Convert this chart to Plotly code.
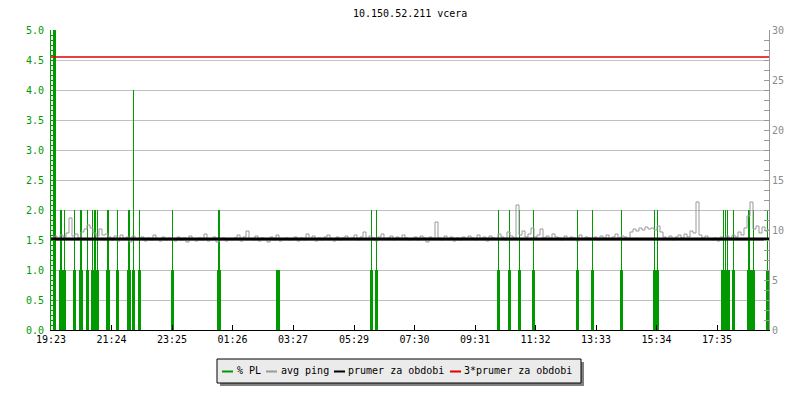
import plotly.graph_objects as go

# ---------------- data ----------------
title_text = "10.150.52.211 vcera"

# time axis: minutes after 19:23
x_end = 1436
tick_minutes = [0, 121, 242, 363, 484, 606, 727, 848, 969, 1090, 1211, 1332]
tick_labels = ["19:23", "21:24", "23:25", "01:26", "03:27", "05:29",
               "07:30", "09:31", "11:32", "13:33", "15:34", "17:35"]

# avg ping [ms], one sample every 6 minutes
ping_step = 6
avg_ping = [
    9.2, 9.4, 9.0, 9.5, 9.3, 9.7, 11.2, 9.4, 9.6, 9.2, 9.8, 10.1, 10.5, 10.2, 9.7, 9.4, 10.1, 9.5, 9.6, 9.3,
    9.0, 9.4, 8.9, 9.5, 9.1, 9.3, 8.8, 9.4, 9.0, 9.2, 9.3, 8.9, 9.2, 9.0, 9.5, 9.1, 8.9, 9.3, 9.0, 9.2,
    9.1, 8.9, 9.3, 9.0, 9.2, 8.8, 9.4, 9.1, 8.9, 9.2, 9.0, 9.6, 8.9, 9.1, 9.3, 8.8, 9.0, 9.2, 8.9, 9.1,
    9.0, 9.2, 9.5, 8.9, 9.3, 9.9, 9.1, 9.0, 9.4, 8.9, 9.2, 9.1, 8.8, 9.3, 9.0, 9.5, 8.9, 9.1, 9.2, 9.0,
    9.1, 9.3, 8.9, 9.2, 9.0, 9.6, 9.1, 9.4, 8.9, 9.2, 9.0, 9.3, 9.5, 9.1, 8.9, 9.3, 9.0, 9.2, 9.4, 9.1,
    9.2, 9.5, 9.0, 9.3, 9.8, 9.1, 9.4, 9.2, 8.9, 9.3, 9.6, 9.1, 9.2, 9.4, 9.0, 9.3, 9.1, 9.5, 9.2, 9.0,
    9.1, 9.3, 9.0, 9.4, 9.2, 8.8, 9.3, 9.1, 10.8, 9.2, 9.0, 9.4, 9.1, 9.3, 8.9, 9.2, 9.0, 9.3, 9.1, 9.4,
    9.2, 9.0, 9.5, 9.1, 9.3, 8.9, 9.4, 9.2, 9.1, 9.6, 9.3, 9.0, 9.8, 9.4, 9.2, 12.5, 9.5, 9.9, 9.3, 9.6,
    10.2, 9.3, 9.5, 10.1, 9.2, 9.4, 9.1, 9.6, 9.3, 9.2, 9.0, 9.4, 9.1, 9.3, 9.2, 8.9, 9.5, 9.1, 9.3, 9.2,
    9.1, 9.3, 9.0, 9.4, 9.2, 9.5, 9.1, 9.3, 9.6, 9.2, 9.4, 9.3, 9.1, 9.8, 10.1, 9.9, 10.2, 10.0, 10.3, 10.1,
    10.2, 10.0, 10.4, 9.8, 9.3, 9.1, 9.4, 9.0, 9.3, 9.5, 9.2, 9.6, 9.3, 9.9, 9.7, 12.8, 9.5, 9.2, 9.4, 9.1,
    9.0, 9.2, 8.9, 9.3, 9.1, 9.4, 9.2, 9.5, 9.3, 9.8, 9.5, 10.2, 11.4, 12.8, 10.1, 10.4, 9.7, 10.3, 9.9, 10.1,
]
ping_minutes = [i * ping_step for i in range(len(avg_ping))]

# packet loss [%], 2-minute samples
pl_minutes = [
    6, 8,
    18, 20, 22, 25, 27, 29, 45, 47, 49, 58, 60, 62, 71, 73, 75,
    81, 83, 85, 86, 88, 90, 91, 93, 95, 112, 114, 116, 131, 133, 135,
    154, 156, 158, 163, 165, 167, 175, 177, 179, 241, 243, 245,
    334, 336, 338, 452, 454, 456,
    639, 641, 643, 649, 651, 653,
    893, 895, 897, 915, 917, 919, 935, 937, 939, 963, 965, 967,
    1051, 1053, 1055, 1081, 1083, 1085, 1139, 1141, 1143,
    1205, 1207, 1209, 1211, 1213, 1215,
    1341, 1343, 1345, 1347, 1349, 1351, 1353, 1355, 1357,
    1363, 1365, 1367, 1394, 1396, 1398,
    1401, 1403, 1405, 1407, 1431, 1433, 1435,
]
pl_values = [
    100, 100,
    1, 2, 1, 1, 2, 1, 1, 2, 1, 1, 2, 1, 1, 2, 1,
    1, 2, 1, 1, 2, 1, 1, 2, 1, 1, 2, 1, 1, 2, 1,
    1, 2, 1, 1, 4, 1, 1, 2, 1, 1, 2, 1,
    1, 2, 1, 1, 1, 1,
    1, 2, 1, 1, 2, 1,
    1, 2, 1, 1, 2, 1, 1, 2, 1, 1, 2, 1,
    1, 2, 1, 1, 2, 1, 1, 2, 1,
    1, 2, 1, 1, 2, 1,
    1, 1, 2, 1, 2, 1, 2, 1, 1,
    1, 2, 1, 1, 2, 1,
    1, 1, 2, 1, 1, 2, 1,
]

prumer = 9.1           # mean ping over the period [ms]
prumer3 = 27.3         # 3 * mean

legend_names = ["% PL", "avg ping", "prumer za obdobi", "3*prumer za obdobi"]

# ---------------- styles ----------------
GREEN = "#009900"
GRAY = "#999999"
AXGRAY = "#999999"
RED = "#e00000"
FONT = "DejaVu Sans Mono"
PAGE_OFF = 8                      # default body margin of the html page
W, H = 800 - PAGE_OFF, 400 - PAGE_OFF
PLOT_X0, PLOT_X1, PLOT_Y0, PLOT_Y1 = 51, 769, 30, 330   # page pixel coords of the plot area
L, R = PLOT_X0 - PAGE_OFF, 800 - PLOT_X1
T, B = PLOT_Y0 - PAGE_OFF, 400 - PLOT_Y1
pw, ph = PLOT_X1 - PLOT_X0, PLOT_Y1 - PLOT_Y0


def px(xp):
    return (xp - PLOT_X0) / pw


def py(yp):
    return (PLOT_Y1 - yp) / ph


fig = go.Figure()

fig.add_trace(go.Bar(
    x=pl_minutes, y=pl_values, width=2,
    marker=dict(color=GREEN, line=dict(width=0, color=GREEN)),
    name=legend_names[0], showlegend=False, yaxis="y",
))
fig.add_trace(go.Scatter(
    x=ping_minutes, y=avg_ping, mode="lines", line=dict(color=GRAY, width=1, shape="hv"),
    name=legend_names[1], showlegend=False, yaxis="y2",
))
fig.add_trace(go.Scatter(
    x=[0, x_end], y=[prumer, prumer], mode="lines", line=dict(color="black", width=3),
    name=legend_names[2], showlegend=False, yaxis="y2",
))
fig.add_trace(go.Scatter(
    x=[0, x_end], y=[prumer3, prumer3], mode="lines", line=dict(color=RED, width=1.5),
    name=legend_names[3], showlegend=False, yaxis="y2",
))

fig.update_layout(
    width=W, height=H,
    margin=dict(l=L, r=R, t=T, b=B, autoexpand=False),
    paper_bgcolor="white", plot_bgcolor="white",
    font=dict(family=FONT, size=10, color="black"),
    barmode="overlay", bargap=0,
    xaxis=dict(
        range=[0, x_end], tickvals=tick_minutes, ticktext=tick_labels,
        ticks="inside", ticklen=5, tickcolor="black", tickwidth=1,
        showline=True, linecolor="black", linewidth=1,
        showgrid=False, zeroline=False, tickfont=dict(color="black", size=10, family=FONT),
    ),
    yaxis=dict(
        range=[0, 5], tickvals=[i * 0.5 for i in range(11)], tickformat=".1f",
        ticks="inside", ticklen=4, tickcolor=GREEN, tickwidth=1,
        minor=dict(dtick=5 / 60, ticks="inside", ticklen=4, tickcolor=GREEN, showgrid=False),
        showline=True, linecolor=GREEN, linewidth=1,
        showgrid=True, gridcolor="#c0c0c0", gridwidth=1, zeroline=False,
        tickfont=dict(color=GREEN, size=10, family=FONT), ticklabelstandoff=4,
    ),
    yaxis2=dict(
        range=[0, 30], overlaying="y", side="right", tickvals=[0, 5, 10, 15, 20, 25, 30],
        ticks="inside", ticklen=5, tickcolor=AXGRAY, tickwidth=1,
        minor=dict(dtick=1, ticks="inside", ticklen=5, tickcolor=AXGRAY, showgrid=False),
        showline=True, linecolor=AXGRAY, linewidth=1,
        showgrid=False, zeroline=False,
        tickfont=dict(color="#8c8c8c", size=10, family=FONT),
    ),
)

# title
fig.add_annotation(text=title_text, xref="paper", yref="paper", x=px(409.5), y=py(13),
                   showarrow=False, xanchor="center", yanchor="middle",
                   font=dict(family=FONT, size=10, color="black"))

# custom legend box with shadow
fig.add_shape(type="rect", xref="paper", yref="paper",
              x0=px(220), x1=px(584), y0=py(386), y1=py(362),
              fillcolor="#808080", line=dict(width=0), layer="above")
fig.add_shape(type="rect", xref="paper", yref="paper",
              x0=px(217), x1=px(581), y0=py(383), y1=py(359),
              fillcolor="#ebebeb", line=dict(color="black", width=1), layer="above")

swatch_colors = [GREEN, GRAY, "black", RED]
swatch_x = [222, 266, 334, 450]
text_x = [235, 279, 346, 462]
for name, col, sx, tx in zip(legend_names, swatch_colors, swatch_x, text_x):
    fig.add_shape(type="line", xref="paper", yref="paper",
                  x0=px(sx), x1=px(sx + 11), y0=py(371.5), y1=py(371.5),
                  line=dict(color=col, width=2), layer="above")
    fig.add_annotation(text=name, xref="paper", yref="paper", x=px(tx), y=py(370.5),
                       showarrow=False, xanchor="left", yanchor="middle",
                       font=dict(family=FONT, size=10, color="black"))

fig.write_html("out.html")
